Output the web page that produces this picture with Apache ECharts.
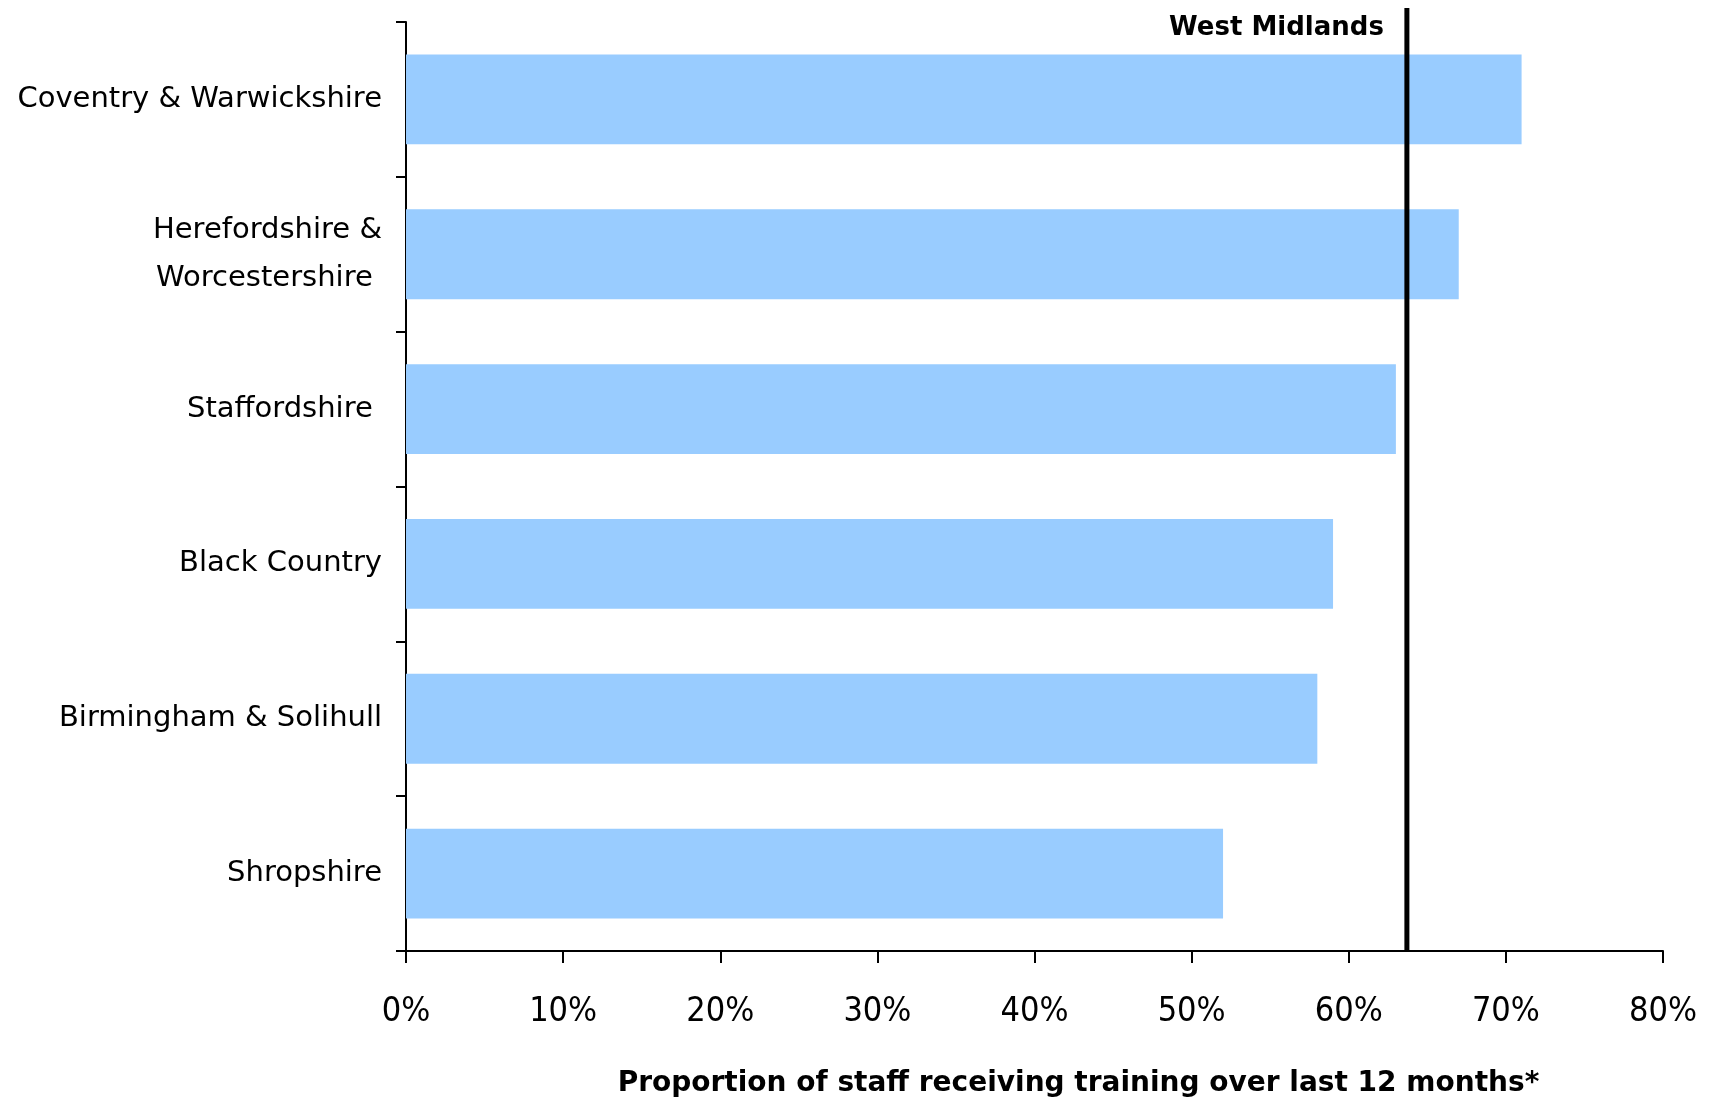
<!DOCTYPE html>
<html>
<head>
<meta charset="utf-8">
<script src="https://cdn.jsdelivr.net/npm/echarts@6/dist/echarts.min.js"></script>
<style>
html,body{margin:0;padding:0;background:#fff;}
#chart{width:1709px;height:1103px;}
</style>
</head>
<body>
<div id="chart"></div>
<script>
const categories = ['Coventry & Warwickshire', 'Herefordshire &\nWorcestershire ', 'Staffordshire ', 'Black Country', 'Birmingham & Solihull', 'Shropshire'];
const values = [71, 67, 63, 59, 58, 52];
const referenceName = 'West Midlands';
const referenceValue = 63.7;
const axisTitle = 'Proportion of staff receiving training over last 12 months*';
const xMin = 0, xMax = 80, xStep = 10;

const chart = echarts.init(document.getElementById('chart'), null, {renderer: 'canvas'});
const option = {
  animation: false,
  backgroundColor: '#ffffff',
  grid: {left: 406, right: 46, top: 22, bottom: 151, containLabel: false},
  xAxis: {
    type: 'value', min: xMin, max: xMax, interval: xStep,
    axisLine: {show: true, lineStyle: {color: '#000', width: 2}},
    axisTick: {show: true, length: 12, lineStyle: {color: '#000', width: 2}},
    splitLine: {show: false},
    axisLabel: {
      formatter: '{value}%', margin: 44, color: '#000',
      fontFamily: '"Liberation Sans Narrow", "DejaVu Sans Condensed", sans-serif', fontSize: 34
    },
    name: axisTitle, nameLocation: 'middle', nameGap: 119,
    nameTextStyle: {fontFamily: '"DejaVu Sans", sans-serif', fontWeight: 'bold', fontSize: 28, color: '#000', padding: [0, 0, 0, 88]}
  },
  yAxis: {
    type: 'category', inverse: true, data: categories,
    axisLine: {show: true, lineStyle: {color: '#000', width: 2}},
    axisTick: {show: true, length: 10, interval: 0, lineStyle: {color: '#000', width: 2}},
    axisLabel: {margin: 24, color: '#000', fontFamily: '"DejaVu Sans", sans-serif', fontSize: 29, lineHeight: 48, interval: 0}
  },
  series: [{
    type: 'bar', data: values, barCategoryGap: '42%',
    itemStyle: {color: '#99CCFF'},
    silent: true
  }]
};
chart.setOption(option);

const px = chart.convertToPixel({xAxisIndex: 0}, referenceValue);
const rect = chart.getModel().getComponent('grid').coordinateSystem.getRect();
chart.setOption({
  graphic: [
    {type: 'line', shape: {x1: px, y1: 8, x2: px, y2: rect.y + rect.height}, style: {stroke: '#000', lineWidth: 5}, z: 10},
    {type: 'text', x: px - 23, y: 28, style: {text: referenceName, fill: '#000', font: 'bold 26px "DejaVu Sans", sans-serif', textAlign: 'right', textVerticalAlign: 'middle'}, z: 10}
  ]
});
</script>
</body>
</html>
